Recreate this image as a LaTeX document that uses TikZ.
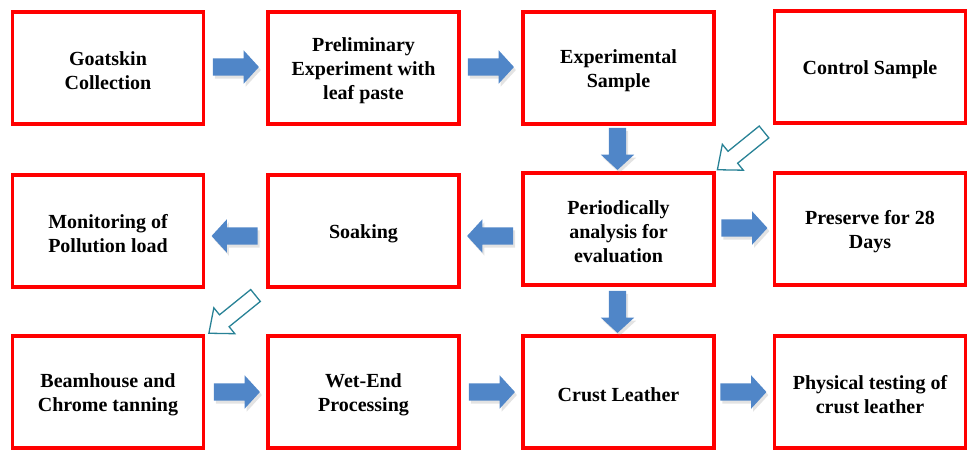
\documentclass[tikz,border=0pt]{standalone}
\usepackage{fontspec}
\setmainfont{Liberation Serif}
\usetikzlibrary{shapes.arrows,calc,shadows}
\definecolor{boxred}{RGB}{255,0,0}
\definecolor{arrblue}{RGB}{80,134,200}
\definecolor{tealarr}{RGB}{40,130,150}
\begin{document}
\begin{tikzpicture}[x=1pt,y=-1pt,
  boxtext/.style={align=center, font=\fontsize{20}{24}\selectfont\bfseries, inner sep=0pt, yshift=-3pt},
  stepbox/.style={draw=boxred, line width=3.6pt, minimum width=191pt, minimum height=112pt,
    inner sep=0pt, label={[boxtext]center:#1}},
  barrow/.style={single arrow, fill=arrblue, draw=none, minimum height=46pt,
    inner xsep=0pt, inner ysep=8.5pt, anchor=tip,
    single arrow head extend=8pt, single arrow tip angle=95,
    drop shadow={opacity=0.22, shadow xshift=2pt, shadow yshift=-3pt}},
  harrow/.style={single arrow, draw=tealarr, fill=white, line width=1.3pt, minimum height=60pt,
    inner xsep=0pt, inner ysep=7pt, single arrow head extend=9pt, single arrow tip angle=80}]
\useasboundingbox (0,0) rectangle (968,450);
% row 1
\node[stepbox={Goatskin\\Collection}] (goat) at (108,68) {};
\node[stepbox={Preliminary\\Experiment with\\leaf paste}] (prelim) at (363.5,68) {};
\node[stepbox={Experimental\\Sample}] (exp) at (618.5,68) {};
\node[stepbox={Control Sample}] (ctrl) at (870,67) {};
% row 2
\node[stepbox={Monitoring of\\Pollution load}] (mon) at (108,231) {};
\node[stepbox={Soaking}] (soak) at (363.5,231) {};
\node[stepbox={Periodically\\analysis for\\evaluation}] (peri) at (618.5,229) {};
\node[stepbox={Preserve for 28\\Days}] (pres) at (870,229) {};
% row 3
\node[stepbox={Beamhouse and\\Chrome tanning}] (beam) at (108,392) {};
\node[stepbox={Wet-End\\Processing}] (wet) at (363.5,392) {};
\node[stepbox={Crust Leather}] (crust) at (618.5,392) {};
\node[stepbox={Physical testing of\\crust leather}] (phys) at (870,392) {};
% block arrows
\node[barrow] (a1) at ($(prelim.west)+(-7,-1)$) {};
\node[barrow] (a2) at ($(exp.west)+(-7,-1)$) {};
\node[barrow, rotate=-90, minimum height=42pt] (a3) at ($(peri.north)+(-1,-1)$) {};
\node[barrow, rotate=180] (a4) at ($(soak.east)+(6,5)$) {};
\node[barrow, rotate=180] (a5) at ($(mon.east)+(6,5)$) {};
\node[barrow] (a6) at ($(pres.west)+(-5,-1)$) {};
\node[barrow, rotate=-90, minimum height=42pt] (a7) at ($(crust.north)+(-1,-1)$) {};
\node[barrow] (a8) at ($(wet.west)+(-6,0)$) {};
\node[barrow] (a9) at ($(crust.west)+(-6,0)$) {};
\node[barrow] (a10) at ($(phys.west)+(-6,0)$) {};
% hollow arrows
\node[harrow, rotate=219] (h1) at ($(ctrl.south west)!0.5!(peri.north east)$) {};
\node[harrow, rotate=219] (h2) at ($(soak.south west)!0.5!(beam.north east)$) {};
\end{tikzpicture}
\end{document}
